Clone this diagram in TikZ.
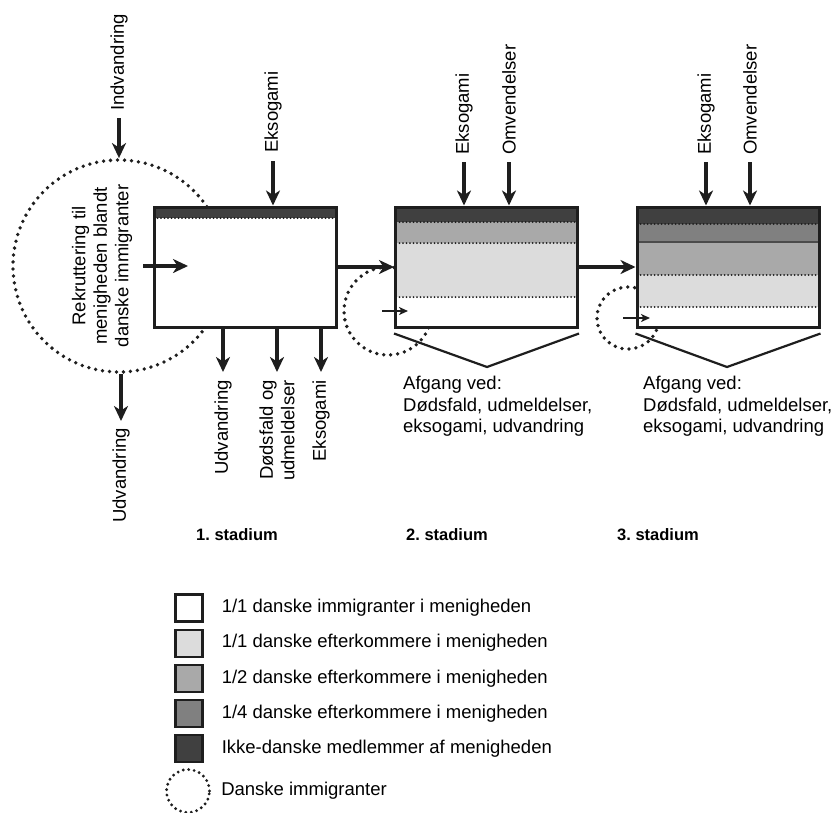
\documentclass[tikz,border=0pt]{standalone}
\usepackage{fontspec}
\setmainfont{Liberation Sans}
\usetikzlibrary{
    arrows.meta,
    positioning,
}
\definecolor{inkline}{HTML}{1E1E1E}
\definecolor{nondanish}{HTML}{404040}
\definecolor{quarterdk}{HTML}{808080}
\definecolor{halfdk}{HTML}{A9A9A9}
\definecolor{fulldk}{HTML}{DCDCDC}
\newcommand{\labelfont}{\fontsize{18.5}{21.5}\selectfont}
\newcommand{\stagefont}{\fontsize{16.5}{19}\selectfont\bfseries}
\tikzset{
    stage/.style={rectangle, draw=inkline, line width=3pt, minimum width=182pt, minimum height=120pt, inner sep=0pt},
    flow/.style={draw=inkline, line width=3.6pt, -{Stealth[length=15pt, width=14pt, inset=4.5pt]}},
    smallflow/.style={draw=inkline, line width=1.8pt, -{Stealth[length=9pt, width=8pt, inset=2.5pt]}},
    pool/.style={circle, draw=inkline, line width=3.8pt, dash pattern=on 0pt off 7pt, line cap=round, inner sep=0pt},
    layerline/.style={draw=inkline, line width=2pt, dash pattern=on 0pt off 3.5pt, line cap=round},
    vlabel/.style={rotate=90, inner sep=0pt, font=\labelfont},
    afgang/.style={anchor=north west, inner sep=0pt, align=left, font=\labelfont},
    stagelabel/.style={inner sep=0pt, font=\stagefont},
    bracket/.style={draw=inkline, line width=2.2pt},
    key/.style={rectangle, draw=inkline, line width=2.2pt, minimum size=27pt, inner sep=0pt},
    keytext/.style={inner sep=0pt, font=\labelfont},
}
\begin{document}
\begin{tikzpicture}[x=1pt, y=-1pt]
    \useasboundingbox (0,0) rectangle (840,812);

    % pools of danish immigrants (behind the boxes)
    \node[pool, minimum size=212pt] (recruit) at (119,266) {};
    \node[pool, minimum size=88pt] (pool2) at (388,311) {};
    \node[pool, minimum size=62pt] (pool3) at (628,318) {};

    % ===== LAYERS OF THE THREE STAGES =====
    \fill[white] (154,207) rectangle (336,327);
    \fill[nondanish] (154,207) rectangle (336,218);
    \draw[layerline] (154,218) -- (336,218);

    \fill[white] (396,207) rectangle (577,327);
    \fill[nondanish] (396,207) rectangle (577,222);
    \fill[halfdk] (396,222) rectangle (577,243);
    \fill[fulldk] (396,243) rectangle (577,297);
    \draw[layerline] (396,222) -- (577,222);
    \draw[layerline] (396,243) -- (577,243);
    \draw[layerline] (396,297) -- (577,297);

    \fill[white] (637,207) rectangle (819,327);
    \fill[nondanish] (637,207) rectangle (819,224);
    \fill[quarterdk] (637,224) rectangle (819,242);
    \fill[halfdk] (637,242) rectangle (819,275);
    \fill[fulldk] (637,275) rectangle (819,307);
    \draw[layerline] (637,224) -- (819,224);
    \draw[draw=inkline!80, line width=1.2pt] (637,242) -- (819,242);
    \draw[layerline] (637,275) -- (819,275);
    \draw[layerline] (637,307) -- (819,307);

    \node[stage] (stage1) at (245,267) {};
    \node[stage] (stage2) at (486.5,267) {};
    \node[stage] (stage3) at (728,267) {};

    % ===== LABELS =====
    \node[vlabel, anchor=west] (indv) at (119,111) {Indvandring};
    \node[vlabel, anchor=east] (udv0) at (121,428) {Udvandring};
    \node[vlabel, align=center] (recruittext) at (102,266) {Rekruttering til\\menigheden blandt\\danske immigranter};

    \node[vlabel, anchor=west] (eks1) at (273,153) {Eksogami};
    \node[vlabel, anchor=east] (udv1) at (223,380) {Udvandring};
    \node[vlabel, anchor=east, align=right] (dod1) at (277,380) {Dødsfald og\\udmeldelser};
    \node[vlabel, anchor=east] (eksout1) at (321,380) {Eksogami};

    \node[vlabel, anchor=west] (eks2) at (464,155) {Eksogami};
    \node[vlabel, anchor=west] (omv2) at (509,155) {Omvendelser};
    \node[vlabel, anchor=west] (eks3) at (706,155) {Eksogami};
    \node[vlabel, anchor=west] (omv3) at (750,155) {Omvendelser};

    \coordinate (exit2) at (487,367);
    \coordinate (exit3) at (727,367);
    \node[afgang] (afgang2) at (403,376) {Afgang ved:\\Dødsfald, udmeldelser,\\eksogami, udvandring};
    \node[afgang] (afgang3) at (643,376) {Afgang ved:\\Dødsfald, udmeldelser,\\eksogami, udvandring};

    \node[stagelabel] (st1) at (237,535) {1.\ stadium};
    \node[stagelabel] (st2) at (447,535) {2.\ stadium};
    \node[stagelabel] (st3) at (658,535) {3.\ stadium};

    % ===== LEGEND =====
    \node[key, fill=white] (key1) at (189,608) {};
    \node[key, fill=fulldk, below=6pt of key1] (key2) {};
    \node[key, fill=halfdk, below=6pt of key2] (key3) {};
    \node[key, fill=quarterdk, below=6pt of key3] (key4) {};
    \node[key, fill=nondanish, below=6pt of key4] (key5) {};
    \node[pool, minimum size=43pt, line width=3.2pt, dash pattern=on 0pt off 5.5pt] (keypool) at (188,791) {};

    \node[keytext, right=18pt of key1] {1/1 danske immigranter i menigheden};
    \node[keytext, right=18pt of key2] {1/1 danske efterkommere i menigheden};
    \node[keytext, right=18pt of key3] {1/2 danske efterkommere i menigheden};
    \node[keytext, right=18pt of key4] {1/4 danske efterkommere i menigheden};
    \node[keytext, right=18pt of key5] {Ikke-danske medlemmer af menigheden};
    \node[keytext, right=10pt of keypool] {Danske immigranter};

    % ===== DRAW ALL CONNECTIONS =====
    \draw[flow] ([yshift=-7pt]indv.west) -- (recruit.north);
    \draw[flow] (recruit.south -| udv0.east) -- ([yshift=7pt]udv0.east);
    \draw[flow] ([xshift=24pt]recruit.center) -- ([xshift=69pt]recruit.center);

    \draw[flow] ([yshift=-8pt]eks1.west) -- (eks1.west |- stage1.north);
    \draw[flow] (udv1.east |- stage1.south) -- ([yshift=8pt]udv1.east);
    \draw[flow] (dod1.east |- stage1.south) -- ([yshift=8pt]dod1.east);
    \draw[flow] (eksout1.east |- stage1.south) -- ([yshift=8pt]eksout1.east);

    \draw[flow] (stage1) -- (stage2);
    \draw[flow] (stage2) -- (stage3);

    \draw[flow] ([yshift=-7pt]eks2.west) -- (eks2.west |- stage2.north);
    \draw[flow] ([yshift=-7pt]omv2.west) -- (omv2.west |- stage2.north);
    \draw[flow] ([yshift=-7pt]eks3.west) -- (eks3.west |- stage3.north);
    \draw[flow] ([yshift=-7pt]omv3.west) -- (omv3.west |- stage3.north);

    \draw[smallflow] ([xshift=-6pt]pool2.center) -- ([xshift=20pt]pool2.center);
    \draw[smallflow] ([xshift=-5pt]pool3.center) -- ([xshift=22pt]pool3.center);

    \draw[bracket] ([yshift=-5pt]stage2.south west) -- (exit2) -- ([yshift=-5pt]stage2.south east);
    \draw[bracket] ([yshift=-5pt]stage3.south west) -- (exit3) -- ([yshift=-5pt]stage3.south east);

\end{tikzpicture}
\end{document}
